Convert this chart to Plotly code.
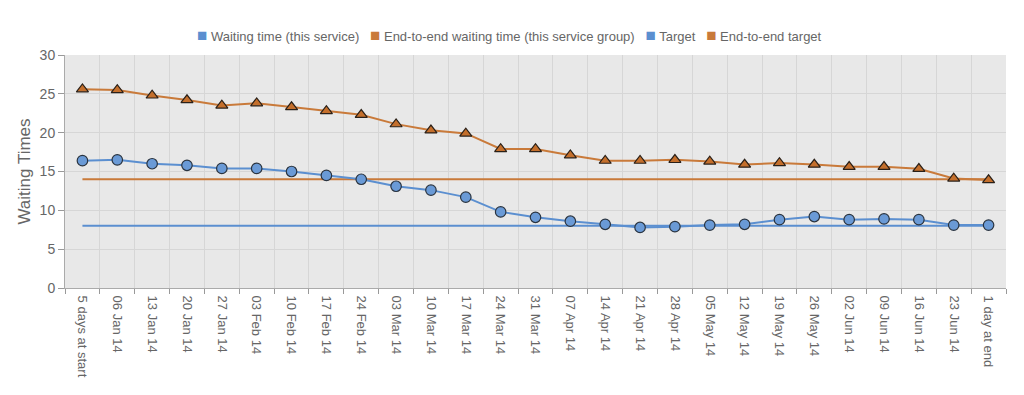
import plotly.graph_objects as go

categories = ["5 days at start", "06 Jan 14", "13 Jan 14", "20 Jan 14", "27 Jan 14",
              "03 Feb 14", "10 Feb 14", "17 Feb 14", "24 Feb 14", "03 Mar 14",
              "10 Mar 14", "17 Mar 14", "24 Mar 14", "31 Mar 14", "07 Apr 14",
              "14 Apr 14", "21 Apr 14", "28 Apr 14", "05 May 14", "12 May 14",
              "19 May 14", "26 May 14", "02 Jun 14", "09 Jun 14", "16 Jun 14",
              "23 Jun 14", "1 day at end"]

waiting = [16.4, 16.5, 16.0, 15.8, 15.4, 15.4, 15.0, 14.5, 14.0, 13.1,
           12.6, 11.7, 9.8, 9.1, 8.6, 8.2, 7.8, 7.9, 8.1, 8.2,
           8.8, 9.2, 8.8, 8.9, 8.8, 8.1, 8.1]

end_to_end = [25.6, 25.5, 24.8, 24.2, 23.5, 23.8, 23.3, 22.8, 22.3, 21.1,
              20.3, 19.9, 17.9, 17.9, 17.1, 16.4, 16.4, 16.5, 16.3, 15.9,
              16.1, 15.9, 15.6, 15.6, 15.35, 14.1, 13.9]

target_value = 8
end_target_value = 14
target = [target_value] * len(categories)
end_target = [end_target_value] * len(categories)

series_names = ["Waiting time (this service)",
                "End-to-end waiting time (this service group)",
                "Target", "End-to-end target"]

BLUE = "#5b8fd0"
BLUE_FILL = "#6a9ad6"
ORANGE = "#c97a3a"
ORANGE_FILL = "#c46f2c"
series_colors = [BLUE, ORANGE, BLUE, ORANGE]

fig = go.Figure()

fig.add_trace(go.Scatter(x=categories, y=target, mode="lines",
                         line=dict(color=BLUE, width=2), name=series_names[2]))
fig.add_trace(go.Scatter(x=categories, y=end_target, mode="lines",
                         line=dict(color=ORANGE, width=2), name=series_names[3]))
fig.add_trace(go.Scatter(x=categories, y=waiting, mode="lines+markers",
                         line=dict(color=BLUE, width=2),
                         marker=dict(symbol="circle", size=10.5, color=BLUE_FILL,
                                     line=dict(color="#2a3440", width=1.2)),
                         name=series_names[0]))
fig.add_trace(go.Scatter(x=categories, y=end_to_end, mode="lines+markers",
                         line=dict(color=ORANGE, width=2),
                         marker=dict(symbol="triangle-up", size=10.5, color=ORANGE_FILL,
                                     line=dict(color="#2a2018", width=1.2)),
                         name=series_names[1]))

legend_text = "   ".join(
    f"<span style='color:{c};font-size:17px'>■</span> {n}"
    for n, c in zip(series_names, series_colors)
)

# page body has an 8px default margin; figure sized to fit the window
W, H = 1016, 387
L, T = 57, 47
R = W - 998
B = H - 280

fig.update_layout(
    width=W, height=H,
    margin=dict(l=L, r=R, t=T, b=B, autoexpand=False),
    paper_bgcolor="white",
    plot_bgcolor="#e8e8e8",
    font=dict(family="Liberation Sans, Arial, sans-serif", color="#666666", size=13),
    showlegend=False,
    annotations=[dict(text=legend_text, xref="paper", yref="paper",
                      x=(501 - L) / (W - L - R), y=1 + 20 / (H - T - B),
                      xanchor="center", yanchor="middle",
                      showarrow=False, font=dict(size=13, color="#666666"))],
)

fig.update_xaxes(
    type="category", range=[-0.5, len(categories) - 0.5], automargin=False,
    tickangle=90, tickson="boundaries", ticks="outside", ticklen=5,
    tickcolor="#999999", showline=True, linecolor="#aaaaaa", linewidth=1,
    showgrid=True, gridcolor="#d6d6d6", gridwidth=1, ticklabelstandoff=4,
    tickfont=dict(size=13, color="#666666"),
)
fig.update_yaxes(
    range=[0, 30], dtick=5, ticks="outside", ticklen=6, tickcolor="#999999",
    automargin=False,
    showline=True, linecolor="#aaaaaa", linewidth=1,
    showgrid=True, gridcolor="#d6d6d6", gridwidth=1, zeroline=False,
    tickfont=dict(size=14, color="#666666"),
    title=dict(text="Waiting Times", font=dict(size=17, color="#666666"), standoff=4),
)

fig.write_html("out.html")
